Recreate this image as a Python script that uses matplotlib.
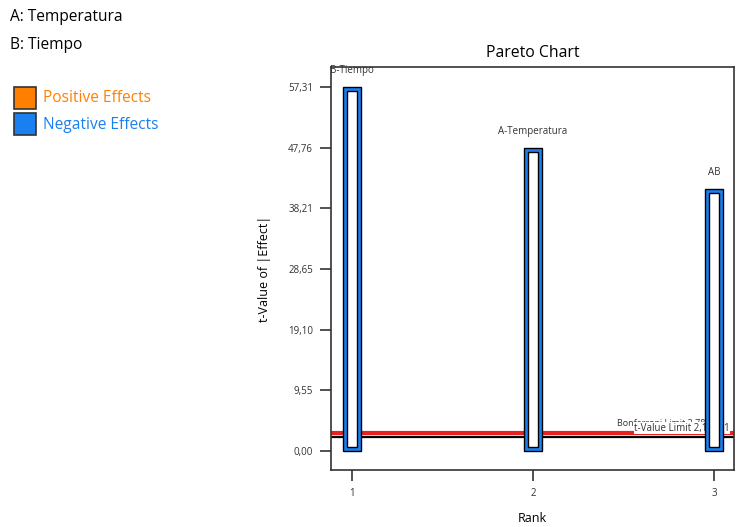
import matplotlib
matplotlib.use("Agg")
import matplotlib.pyplot as plt
from matplotlib.patches import Rectangle

plt.rcParams["font.family"] = ["Open Sans", "DejaVu Sans"]

# datos
ranks = [1, 2, 3]
terms = ["B-Tiempo", "A-Temperatura", "AB"]
t_values = [57.31, 47.7, 41.2]
t_limit = 2.16
bonf_limit = 2.78
yticks = [0.00, 9.55, 19.10, 28.65, 38.21, 47.76, 57.31]
factor_names = ["A: Temperatura", "B: Tiempo"]

BLUE = "#1a80f0"
ORANGE = "#ff8000"

fig = plt.figure(figsize=(7.46, 5.27), dpi=100)
ax = fig.add_axes([0.4437, 0.1082, 0.5402, 0.7647])
ax.set_xlim(0.884, 3.11)
ax.set_ylim(-3.0, 60.47)

# escala px -> datos (aprox.)
px_x = 1 / 181.0
px_y = 9.55 / 60.5
w = 18 * px_x
rim = 4

ax.bar(ranks, t_values, width=w, color=BLUE, edgecolor="black", linewidth=1, zorder=3)
ax.bar(ranks, [v - 2 * rim * px_y for v in t_values], bottom=rim * px_y,
       width=w - 2 * rim * px_x, color="white", edgecolor="black", linewidth=1, zorder=4)

for r, v, name in zip(ranks, t_values, terms):
    ax.text(r, v + 17 * px_y, name, ha="center", va="center", fontsize=7, color="#333333", zorder=5)

ax.axhline(bonf_limit, color="#e8231f", linewidth=3, zorder=1)
ax.axhline(t_limit, color="black", linewidth=1.6, zorder=2)
ax.text(2.464, bonf_limit + 1.6, "Bonferroni Limit 2,78",
        fontsize=6.5, color="#333333", va="center", zorder=1.5,
        bbox=dict(facecolor="white", edgecolor="none", pad=0.3))
ax.text(2.558, t_limit + 1.4, "t-Value Limit 2,16131",
        fontsize=7, color="#333333", va="center", zorder=2.5,
        bbox=dict(facecolor="white", edgecolor="none", pad=0.3))

ax.set_yticks(yticks)
ax.set_yticklabels([f"{t:.2f}".replace(".", ",") for t in yticks])
ax.set_xticks(ranks)
ax.tick_params(labelsize=7, length=8, width=1.2, colors="#333333", pad=5)
for s in ax.spines.values():
    s.set_color("#333333")
    s.set_linewidth(1.2)

ax.set_title("Pareto Chart", fontsize=11.3, pad=7)
ax.set_ylabel("t-Value of |Effect|", fontsize=9, labelpad=12)
ax.set_xlabel("Rank", fontsize=9, labelpad=9)

fig.text(10 / 746, 1 - 17 / 527, factor_names[0], fontsize=11.2, va="center")
fig.text(10 / 746, 1 - 45 / 527, factor_names[1], fontsize=11.2, va="center")

fig.patches.append(Rectangle((14 / 746, 1 - 109 / 527), 22 / 746, 22 / 527,
                             transform=fig.transFigure, facecolor=ORANGE, edgecolor="#333333", linewidth=1.2))
fig.patches.append(Rectangle((14 / 746, 1 - 135 / 527), 22 / 746, 22 / 527,
                             transform=fig.transFigure, facecolor=BLUE, edgecolor="#333333", linewidth=1.2))
fig.text(43 / 746, 1 - 98 / 527, "Positive Effects", fontsize=11.2, color=ORANGE, va="center")
fig.text(43 / 746, 1 - 125 / 527, "Negative Effects", fontsize=11.2, color=BLUE, va="center")

fig.savefig("out.png", dpi=100)
